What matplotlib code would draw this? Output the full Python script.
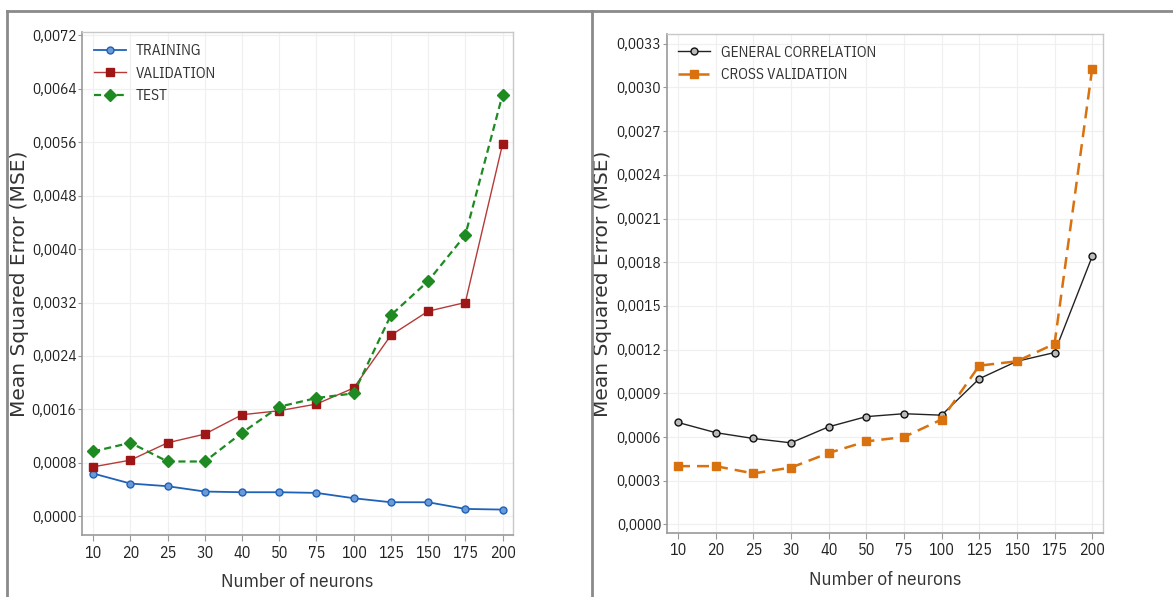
'''MSE vs number of neurons, two panels (ANN training curves).'''

import numpy as np
import matplotlib
matplotlib.use('Agg')
import matplotlib.pyplot as plt
from matplotlib.ticker import FuncFormatter, FixedLocator
from matplotlib.lines import Line2D

## -------------------------------- data --------------------------------
neurons = ['10', '20', '25', '30', '40', '50', '75', '100', '125', '150', '175', '200']

training = [0.00064, 0.00049, 0.00045, 0.00037, 0.00036, 0.00036, 0.00035,
            0.00027, 0.00021, 0.00021, 0.00011, 0.00010]
validation = [0.00074, 0.00084, 0.00110, 0.00123, 0.00152, 0.00158, 0.00168,
              0.00192, 0.00271, 0.00307, 0.00320, 0.00557]
test = [0.00097, 0.00110, 0.00082, 0.00082, 0.00125, 0.00164, 0.00177,
        0.00184, 0.00301, 0.00352, 0.00421, 0.00631]

general_corr = [0.00070, 0.00063, 0.00059, 0.00056, 0.00067, 0.00074, 0.00076,
                0.00075, 0.00100, 0.00112, 0.00118, 0.00184]
cross_val = [0.00040, 0.00040, 0.00035, 0.00039, 0.00049, 0.00057, 0.00060,
             0.00072, 0.00109, 0.00112, 0.00124, 0.00313]

left_yticks = [0.0, 0.0008, 0.0016, 0.0024, 0.0032, 0.0040, 0.0048, 0.0056, 0.0064, 0.0072]
right_yticks = [0.0, 0.0003, 0.0006, 0.0009, 0.0012, 0.0015, 0.0018, 0.0021, 0.0024, 0.0027, 0.0030, 0.0033]

## -------------------------------- style --------------------------------
narrow = ['IBM Plex Sans Condensed', 'DejaVu Sans']
plt.rcParams['font.family'] = narrow
text_col = '#222222'

def comma_fmt(v, pos):
    return ('%.4f' % v).replace('.', ',')

def style_axes(ax, yticks, ylim, ylab_x, xlab_y):
    x = np.arange(len(neurons))
    ax.set_xlim(-0.3, 11.28)
    ax.set_ylim(*ylim)
    ax.set_xticks(x)
    ax.set_xticklabels(neurons, fontsize=11.5, color=text_col)
    ax.yaxis.set_major_locator(FixedLocator(yticks))
    ax.yaxis.set_major_formatter(FuncFormatter(comma_fmt))
    ax.tick_params(axis='y', labelsize=11, labelcolor=text_col, length=3, color='#999999', pad=1)
    ax.tick_params(axis='x', length=4, color='#999999', pad=3)
    ax.grid(True, color='#f0f0f0', linewidth=0.9)
    ax.set_axisbelow(True)
    for s in ['left', 'bottom']:
        ax.spines[s].set_color('#9a9a9a')
        ax.spines[s].set_linewidth(1.2)
    for s in ['top', 'right']:
        ax.spines[s].set_color('#c8c8c8')
        ax.spines[s].set_linewidth(1.0)
    ax.set_xlabel('Number of neurons', fontsize=14, color='#333333')
    ax.xaxis.set_label_coords(0.5, xlab_y)
    ax.set_ylabel('Mean Squared Error (MSE)', fontsize=14.5, color='#333333',
                  family='DejaVu Sans')
    ax.yaxis.set_label_coords(ylab_x, 0.5)

fig = plt.figure(figsize=(11.73, 5.97), dpi=100)
x = np.arange(len(neurons))

## -------------------------------- left panel --------------------------------
ax1 = fig.add_axes([0.0699, 0.1039, 0.3674, 0.8425])
ax1.plot(x, training, '-', color='#1f62b8', linewidth=1.3, marker='o', markersize=5,
         markerfacecolor='#6a9ad8', markeredgecolor='#1f62b8', markeredgewidth=1.0, label='TRAINING')
ax1.plot(x, validation, '-', color='#b53a3a', linewidth=1.0, marker='s', markersize=6,
         markerfacecolor='#9e1616', markeredgecolor='#9e1616', label='VALIDATION')
ax1.plot(x, test, '--', color='#1d8a22', linewidth=1.6, marker='D', markersize=6,
         markerfacecolor='#1d8a22', markeredgecolor='#1d8a22', dashes=(3.2, 1.9), label='TEST')
style_axes(ax1, left_yticks, (-0.00028, 0.00725), -0.123, -0.076)
ax1.legend(loc='upper left', frameon=False, fontsize=11, handlelength=2.1,
           handletextpad=0.6, labelspacing=0.55, borderaxespad=0.2,
           borderpad=0.6, labelcolor='#333333')

## -------------------------------- right panel --------------------------------
ax2 = fig.add_axes([0.5684, 0.1077, 0.3717, 0.8348])
ax2.plot(x, general_corr, '-', color='#222222', linewidth=1.0, marker='o', markersize=5,
         markerfacecolor='#bbbbbb', markeredgecolor='#111111', markeredgewidth=1.0,
         label='GENERAL CORRELATION')
ax2.plot(x, cross_val, '--', color='#d9710f', linewidth=1.8, marker='s', markersize=6,
         markerfacecolor='#d9710f', markeredgecolor='#d9710f', dashes=(4.8, 2.8),
         label='CROSS VALIDATION')
style_axes(ax2, right_yticks, (-0.000057, 0.003365), -0.125, -0.077)
ax2.legend(loc='upper left', frameon=False, fontsize=11, handlelength=2.1,
           handletextpad=0.7, labelspacing=0.55, borderaxespad=0.15,
           borderpad=0.6, labelcolor='#333333')

## -------------------------------- outer frame --------------------------------
W, H = 1173.0, 597.0
frame_kw = dict(color='#8a8a8a', linewidth=2.0, transform=fig.transFigure)
fig.add_artist(Line2D([7 / W, 1.0], [1 - 11 / H, 1 - 11 / H], **frame_kw))
fig.add_artist(Line2D([7 / W, 7 / W], [0, 1 - 11 / H], **frame_kw))
fig.add_artist(Line2D([592 / W, 592 / W], [0, 1 - 11 / H], **frame_kw))

plt.savefig('out.png', dpi=100)
